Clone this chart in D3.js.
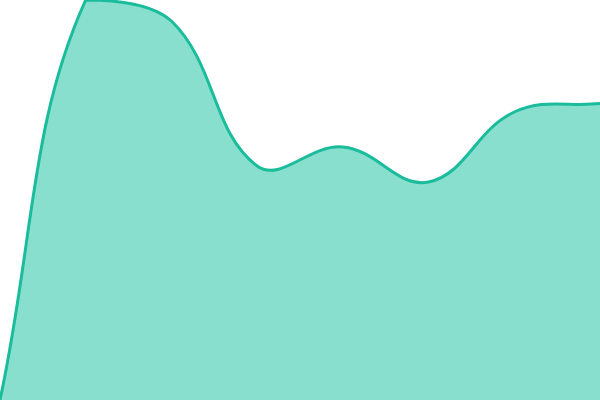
<!DOCTYPE html>
<html>
<head>
<meta charset="utf-8">
<script src="https://cdn.jsdelivr.net/npm/d3@7"></script>
<style>
  html, body { margin: 0; padding: 0; background: #fff; }
  svg { display: block; }
</style>
</head>
<body>
<svg id="chart" width="600" height="400"></svg>
<script>
// data
var labels = ["1", "2", "3", "4", "5", "6", "7", "8"];
var values = [0, 100, 94.75, 58.5, 63.25, 54.5, 72, 74.1];

var width = 600, height = 400, tension = 0.4;

var svg = d3.select("#chart");

var x = d3.scalePoint().domain(labels).range([0, width]);
var y = d3.scaleLinear().domain([0, 100]).range([height, 0]);

var pts = labels.map(function(l, i) { return { x: x(l), y: y(values[i]) }; });

// spline control points, kept inside the plot area
function clampX(v) { return Math.max(0, Math.min(width, v)); }
function clampY(v) { return Math.max(0, Math.min(height, v)); }

pts.forEach(function(p, i) {
	var prev = pts[i - 1] || p, next = pts[i + 1] || p;
	var d01 = Math.hypot(p.x - prev.x, p.y - prev.y);
	var d12 = Math.hypot(next.x - p.x, next.y - p.y);
	var s01 = d01 / (d01 + d12) || 0, s12 = d12 / (d01 + d12) || 0;
	var fa = tension * s01, fb = tension * s12;
	p.cpPrev = { x: clampX(p.x - fa * (next.x - prev.x)), y: clampY(p.y - fa * (next.y - prev.y)) };
	p.cpNext = { x: clampX(p.x + fb * (next.x - prev.x)), y: clampY(p.y + fb * (next.y - prev.y)) };
});

function linePath(ctx) {
	ctx.moveTo(pts[0].x, pts[0].y);
	for (var i = 1; i < pts.length; i++) {
		var a = pts[i - 1], b = pts[i];
		ctx.bezierCurveTo(a.cpNext.x, a.cpNext.y, b.cpPrev.x, b.cpPrev.y, b.x, b.y);
	}
	return ctx;
}

var area = linePath(d3.path());
area.lineTo(pts[pts.length - 1].x, y(0));
area.lineTo(pts[0].x, y(0));
area.closePath();

svg.append("path")
	.attr("d", area.toString())
	.attr("fill", "#89dfce");

svg.append("path")
	.attr("d", linePath(d3.path()).toString())
	.attr("fill", "none")
	.attr("stroke", "#1abc9c")
	.attr("stroke-width", 3)
	.attr("stroke-linejoin", "round");
</script>
</body>
</html>
